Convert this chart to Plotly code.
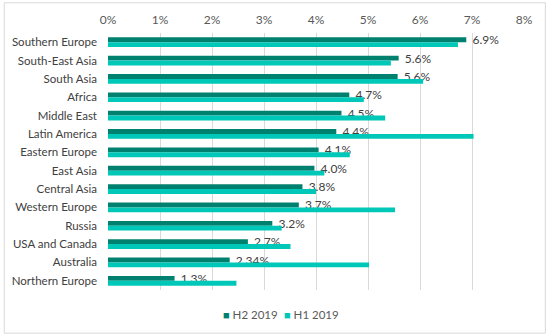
import plotly.graph_objects as go

regions = ["Southern Europe", "South-East Asia", "South Asia", "Africa", "Middle East",
           "Latin America", "Eastern Europe", "East Asia", "Central Asia", "Western Europe",
           "Russia", "USA and Canada", "Australia", "Northern Europe"]
h2_2019 = [6.89, 5.59, 5.57, 4.64, 4.49, 4.39, 4.05, 3.97, 3.74, 3.67, 3.16, 2.69, 2.34, 1.28]
h2_labels = ["6.9%", "5.6%", "5.6%", "4.7%", "4.5%", "4.4%", "4.1%", "4.0%", "3.8%", "3.7%",
             "3.2%", "2.7%", "2.34%", "1.3%"]
h1_2019 = [6.73, 5.44, 6.06, 4.92, 5.33, 7.03, 4.65, 4.16, 4.00, 5.52, 3.34, 3.51, 5.02, 2.47]
tick_vals = [0, 1, 2, 3, 4, 5, 6, 7, 8]
tick_text = ["0%", "1%", "2%", "3%", "4%", "5%", "6%", "7%", "8%"]
series_names = ["H2 2019", "H1 2019"]
series_colors = ["#00806E", "#00C8B9"]

FONT = "Lato, Open Sans, sans-serif"
fig = go.Figure()
fig.add_trace(go.Bar(
    y=regions, x=h2_2019, orientation="h", name=series_names[0],
    marker=dict(color=series_colors[0], line=dict(width=0)),
    text=h2_labels, texttemplate="\u00a0\u00a0%{text}",
    textposition="outside", cliponaxis=False, constraintext="none",
    textfont=dict(size=12, color="#404040", family=FONT),
))
fig.add_trace(go.Bar(
    y=regions, x=h1_2019, orientation="h", name=series_names[1],
    marker=dict(color=series_colors[1], line=dict(width=0)),
))

W, H = 547, 336
l, r, t, b = 105, 23, 31, 46
pw, ph = W - l - r, H - t - b

def px_x(p):
    return (p - l) / pw

def px_y(p):
    return (H - b - p) / ph

legend_x = [219, 280]
annotations = []
for name, col, lx in zip(series_names, series_colors, legend_x):
    annotations.append(dict(
        xref="paper", yref="paper", x=px_x(lx), y=px_y(315), xanchor="left", yanchor="middle",
        showarrow=False,
        text=f"<span style='color:{col};font-size:11px'>■</span> {name}",
        font=dict(size=11.5, color="#595959", family=FONT),
    ))

fig.update_layout(
    width=W, height=H,
    margin=dict(l=l, r=r, t=t, b=b),
    paper_bgcolor="white", plot_bgcolor="white",
    barmode="group", bargap=0.47, bargroupgap=0,
    font=dict(family=FONT, size=12, color="#404040"),
    xaxis=dict(side="top", range=[0, 8], tickvals=tick_vals, ticktext=tick_text,
               showgrid=True, gridcolor="#D9D9D9", gridwidth=1, zeroline=False,
               showline=False, ticks="", ticklabelstandoff=6,
               tickfont=dict(size=12, color="#595959"), fixedrange=True),
    yaxis=dict(autorange="reversed", showgrid=False, zeroline=False, showline=False,
               ticks="", ticklabelstandoff=10, tickfont=dict(size=11.5, color="#404040")),
    showlegend=False,
    annotations=annotations,
    shapes=[dict(type="rect", xref="paper", yref="paper",
                 x0=px_x(0.5), x1=px_x(545.5), y0=px_y(333.5), y1=px_y(0.5),
                 line=dict(color="#D9D9D9", width=1), fillcolor="rgba(0,0,0,0)",
                 layer="below")],
)
fig.write_html("out.html")
